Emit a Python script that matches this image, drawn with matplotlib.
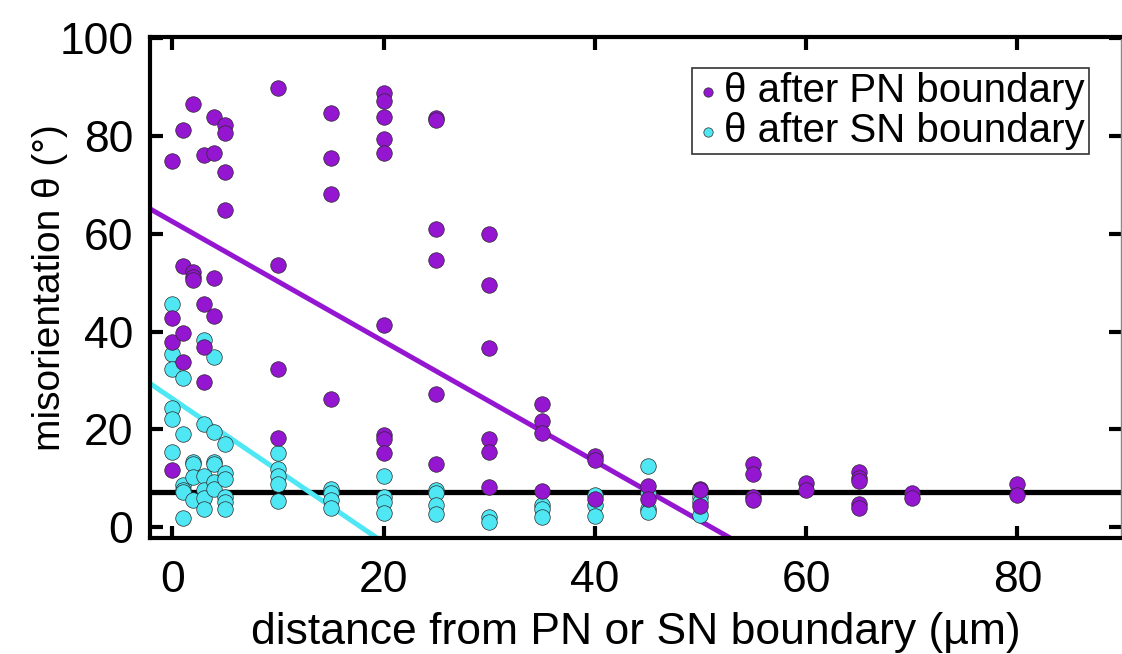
import matplotlib
matplotlib.use("Agg")
import matplotlib.pyplot as plt
import numpy as np

plt.rcParams['font.family'] = ['Liberation Sans', 'DejaVu Sans']

# ---- data ----
pn_groups = {
    0: [74.8, 42.7, 37.9, 11.7],
    1: [81.2, 53.4, 39.8, 33.7],
    2: [86.5, 52.2, 51.2, 50.5],
    3: [76.1, 45.6, 36.9, 29.7],
    4: [83.8, 76.4, 50.9, 43.1],
    5: [82.2, 80.5, 72.7, 64.8],
    10: [89.7, 53.6, 32.4, 18.3],
    15: [84.7, 75.4, 68.2, 26.2],
    20: [88.8, 87.2, 83.8, 79.3, 76.4, 41.3, 18.8, 18.1, 15.1],
    25: [83.7, 83.2, 60.9, 54.7, 27.3, 12.9],
    30: [59.9, 49.5, 36.7, 18.0, 15.4, 8.2],
    35: [25.2, 21.7, 19.3, 7.4],
    40: [14.5, 13.8, 5.7],
    45: [8.4, 5.7],
    50: [7.9, 7.6, 4.3],
    55: [12.9, 10.8, 6.1, 5.5],
    60: [9.1, 7.6],
    65: [11.3, 10.0, 9.5, 4.7, 4.0],
    70: [6.9, 5.9],
    80: [8.9, 6.5],
}
sn_groups = {
    0: [45.7, 35.5, 32.3, 24.3, 22.2, 15.4],
    1: [30.6, 19.0, 8.6, 7.6, 7.2, 1.9],
    2: [13.4, 13.0, 10.3, 5.5],
    3: [38.2, 21.2, 10.5, 7.6, 5.9, 3.8],
    4: [34.8, 19.5, 13.4, 13.0, 9.3, 7.9],
    5: [17.1, 11.0, 9.8, 6.2, 5.2, 3.8],
    10: [15.2, 12.0, 10.4, 8.8, 5.4],
    15: [7.9, 6.9, 5.5, 4.0],
    20: [10.4, 6.2, 5.2, 2.9],
    25: [7.6, 6.9, 4.5, 2.7],
    30: [2.1, 1.1],
    35: [4.5, 3.8, 2.1],
    40: [6.5, 4.5, 2.2],
    45: [12.5, 6.9, 3.8, 3.1],
    50: [6.2, 5.2, 2.5],
}
pn_x = [k for k, v in pn_groups.items() for _ in v]
pn_y = [y for v in pn_groups.values() for y in v]
sn_x = [k for k, v in sn_groups.items() for _ in v]
sn_y = [y for v in sn_groups.values() for y in v]

pn_fit_intercept, pn_fit_slope = 62.5, -1.225
sn_fit_intercept, sn_fit_slope = 26.3, -1.47
threshold = 7.3

x_ticks = [0, 20, 40, 60, 80]
y_ticks = [0, 20, 40, 60, 80, 100]

PURPLE = '#9416D0'
CYAN = '#50E7F5'

fig = plt.figure(figsize=(11.22, 6.54), dpi=100)
ax = fig.add_axes([150/1122, 1-538/654, (1121-150)/1122, (538-37)/654])

ax.axhline(threshold, color='black', lw=3.8, zorder=1)
ax.axline((0, pn_fit_intercept), slope=pn_fit_slope, color=PURPLE, lw=3.6, zorder=1)
ax.axline((0, sn_fit_intercept), slope=sn_fit_slope, color=CYAN, lw=3.6, zorder=1)

ms = 125
ax.scatter(sn_x, sn_y, s=ms, c=CYAN, edgecolors='#2a2a2a', linewidths=0.5, zorder=2,
           label='θ after SN boundary')
ax.scatter(pn_x, pn_y, s=ms, c=PURPLE, edgecolors='#2a2a2a', linewidths=0.5, zorder=3,
           label='θ after PN boundary')

ax.set_xlim(-2.1, 89.8)
ax.set_ylim(-2.2, 100.2)
ax.set_xticks(x_ticks)
ax.set_yticks(y_ticks)
ax.tick_params(direction='in', length=9, width=3, top=True, right=True,
               labelsize=32, pad=12)
ax.tick_params(axis='x', pad=16)
for s in ['left', 'top', 'bottom']:
    ax.spines[s].set_linewidth(3)
ax.spines['right'].set_linewidth(1.0)
ax.spines['right'].set_color('#888888')

ax.set_xlabel('distance from PN or SN boundary (µm)', fontsize=32, labelpad=8)
ax.set_ylabel('misorientation θ (°)', fontsize=28, labelpad=-6)

h, l = ax.get_legend_handles_labels()
leg = ax.legend(h[::-1], l[::-1], loc='upper right', bbox_to_anchor=(0.967, 0.938),
                fontsize=29, frameon=True, fancybox=False, edgecolor='black',
                markerscale=0.6, handletextpad=0.1, borderpad=0.1,
                labelspacing=0.05, handlelength=0.6, borderaxespad=0.0)
leg.get_frame().set_linewidth(1.2)

fig.savefig('out.png', dpi=100)
